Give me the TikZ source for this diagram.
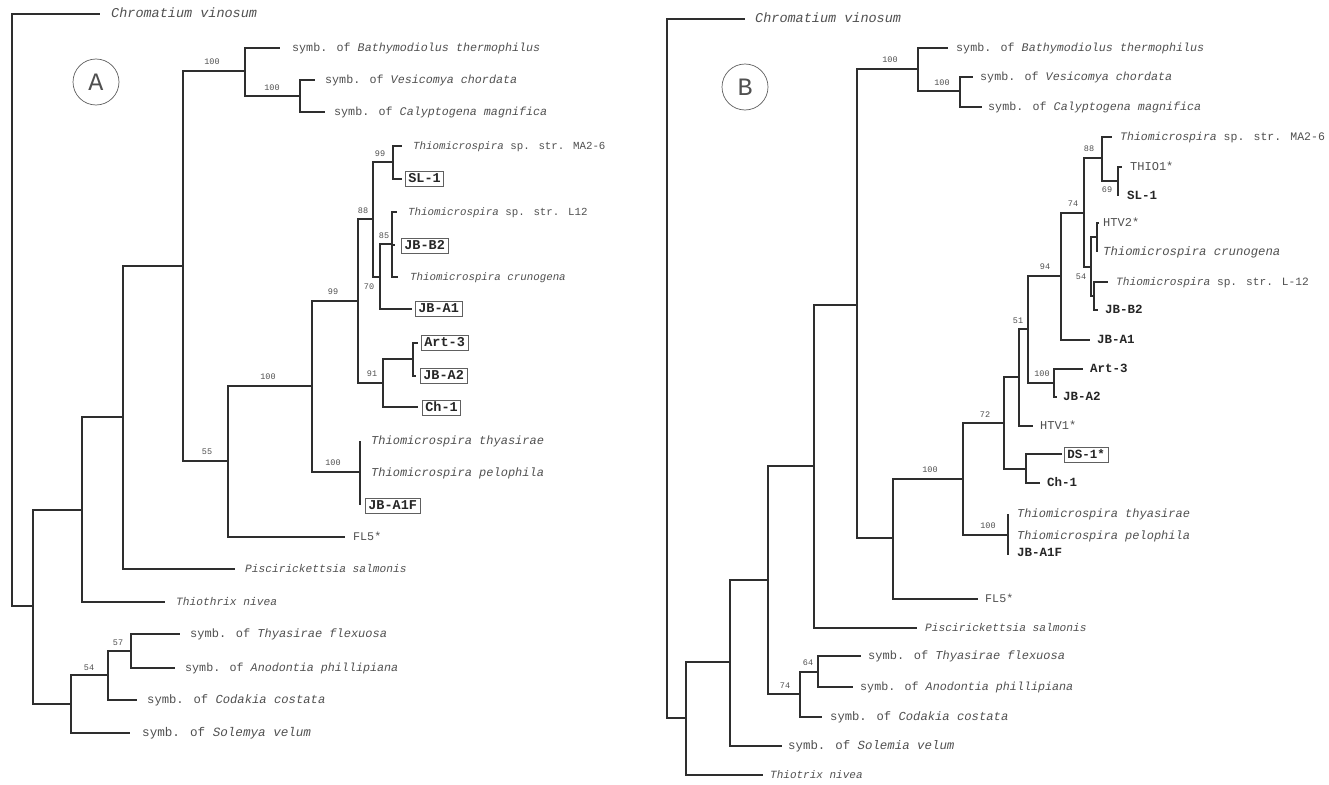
\documentclass[tikz,border=0pt]{standalone}
\usepackage{fontspec}
\setmainfont{Liberation Mono}
\definecolor{linec}{HTML}{2E2E2E}
\definecolor{txtc}{HTML}{505050}
\definecolor{boldc}{HTML}{262626}
\definecolor{boxc}{HTML}{606060}
\tikzset{
  br/.style={draw=linec, line width=1.8pt},
  tx/.style={anchor=west, inner sep=0pt, text=txtc, text height=0.62em, text depth=0pt, font=\fontsize{11.7}{13}\selectfont},
  it/.style={tx, font=\fontsize{12}{13}\selectfont\itshape},
  bd/.style={anchor=west, inner sep=0pt, text=boldc, text height=0.62em, text depth=0pt, font=\fontsize{13.5}{14}\selectfont\bfseries},
  bx/.style={bd, draw=boxc, line width=0.7pt, inner xsep=3pt, inner ysep=4.5pt},
  bs/.style={inner sep=0pt, text=txtc, font=\fontsize{8.5}{9}\selectfont},
  lettercirc/.style={circle, draw=boxc, line width=0.7pt, minimum size=46pt, inner sep=0pt, text=txtc, font=\fontsize{25}{25}\selectfont},
}
\begin{document}
\begin{tikzpicture}[x=1pt,y=-1pt]
\useasboundingbox[fill=white] (0,0) rectangle (1329,784);

% ===================== TREE A =====================
\node[lettercirc] (circA) at (96,82) {A};
% internal nodes
\coordinate (rA) at (12,310);
\coordinate (a33) at (33,606);
\coordinate (a82) at (82,510);
\coordinate (a123) at (123,417);
\coordinate (a183) at (183,266);
\coordinate (a245) at (245,71);
\coordinate (a300) at (300,96);
\coordinate (a228) at (228,461);
\coordinate (a312) at (312,386);
\coordinate (a358) at (358,301);
\coordinate (a360) at (360,472);
\coordinate (a373) at (373,219);
\coordinate (a383) at (383,383);
\coordinate (a393) at (393,162);
\coordinate (a380) at (380,277);
\coordinate (a392) at (392,244);
\coordinate (a413) at (413,359);
\coordinate (a71) at (71,704);
\coordinate (a108) at (108,675);
\coordinate (a131) at (131,651);
% tips
\coordinate (tAchr) at (100,14);
\coordinate (tAbat) at (280,48);
\coordinate (tAves) at (315,80);
\coordinate (tAcal) at (325,112);
\coordinate (tAma2) at (402,146);
\coordinate (tAsl1) at (402,179);
\coordinate (tAl12) at (397,212);
\coordinate (tAjbb2) at (395,245);
\coordinate (tAcru) at (398,277);
\coordinate (tAjba1) at (412,309);
\coordinate (tAart) at (418,343);
\coordinate (tAjba2) at (416,376);
\coordinate (tAch1) at (418,407);
\coordinate (tAthy) at (360,441);
\coordinate (tApel) at (360,473);
\coordinate (tAa1f) at (360,505);
\coordinate (tAfl5) at (345,537);
\coordinate (tApis) at (235,569);
\coordinate (tAthx) at (165,602);
\coordinate (tAtf) at (180,634);
\coordinate (tAap) at (175,668);
\coordinate (tAcc) at (137,700);
\coordinate (tAsv) at (130,733);
% branches
\draw[br] (rA) |- (tAchr);
\draw[br] (rA) |- (a33);
\draw[br] (a33) |- (a82);
\draw[br] (a33) |- (a71);
\draw[br] (a82) |- (a123);
\draw[br] (a82) |- (tAthx);
\draw[br] (a123) |- (a183);
\draw[br] (a123) |- (tApis);
\draw[br] (a183) |- (a245);
\draw[br] (a183) |- (a228);
\draw[br] (a245) |- (tAbat);
\draw[br] (a245) |- (a300);
\draw[br] (a300) |- (tAves);
\draw[br] (a300) |- (tAcal);
\draw[br] (a228) |- (a312);
\draw[br] (a228) |- (tAfl5);
\draw[br] (a312) |- (a358);
\draw[br] (a312) |- (a360);
\draw[br] (a360) |- (tAthy);
\draw[br] (a360) |- (tApel);
\draw[br] (a360) |- (tAa1f);
\draw[br] (a358) |- (a373);
\draw[br] (a358) |- (a383);
\draw[br] (a373) |- (a393);
\draw[br] (a373) |- (a380);
\draw[br] (a393) |- (tAma2);
\draw[br] (a393) |- (tAsl1);
\draw[br] (a380) |- (a392);
\draw[br] (a380) |- (tAjba1);
\draw[br] (a392) |- (tAl12);
\draw[br] (a392) |- (tAjbb2);
\draw[br] (a392) |- (tAcru);
\draw[br] (a383) |- (a413);
\draw[br] (a383) |- (tAch1);
\draw[br] (a413) |- (tAart);
\draw[br] (a413) |- (tAjba2);
\draw[br] (a71) |- (a108);
\draw[br] (a71) |- (tAsv);
\draw[br] (a108) |- (a131);
\draw[br] (a108) |- (tAcc);
\draw[br] (a131) |- (tAtf);
\draw[br] (a131) |- (tAap);
% labels
\node[it, font=\fontsize{13.5}{14}\selectfont\itshape] (lAchr) at (111,14) {Chromatium vinosum};
\node[tx] (lAbat) at (292,48) {symb. of \textit{Bathymodiolus thermophilus}};
\node[tx] (lAves) at (325,80) {symb. of \textit{Vesicomya chordata}};
\node[tx] (lAcal) at (334,112) {symb. of \textit{Calyptogena magnifica}};
\node[tx, font=\fontsize{10.8}{12}\selectfont] (lAma2) at (413,146) {\textit{Thiomicrospira} sp. str. MA2-6};
\node[bx] (lAsl1) at (405,179) {SL-1};
\node[tx, font=\fontsize{10.8}{12}\selectfont] (lAl12) at (408,212) {\textit{Thiomicrospira} sp. str. L12};
\node[bx] (lAjbb2) at (401,246) {JB-B2};
\node[it, font=\fontsize{10.8}{12}\selectfont\itshape] (lAcru) at (410,277) {Thiomicrospira crunogena};
\node[bx] (lAjba1) at (415,309) {JB-A1};
\node[bx] (lAart) at (421,343) {Art-3};
\node[bx] (lAjba2) at (420,376) {JB-A2};
\node[bx] (lAch1) at (422,408) {Ch-1};
\node[it] (lAthy) at (371,441) {Thiomicrospira thyasirae};
\node[it] (lApel) at (371,473) {Thiomicrospira pelophila};
\node[bx] (lAa1f) at (365,506) {JB-A1F};
\node[tx] (lAfl5) at (353,537) {FL5*};
\node[it, font=\fontsize{11.2}{12}\selectfont\itshape] (lApis) at (245,569) {Piscirickettsia salmonis};
\node[it, font=\fontsize{11.2}{12}\selectfont\itshape] (lAthx) at (176,602) {Thiothrix nivea};
\node[tx, font=\fontsize{12}{13}\selectfont] (lAtf) at (190,634) {symb. of \textit{Thyasirae flexuosa}};
\node[tx] (lAap) at (185,668) {symb. of \textit{Anodontia phillipiana}};
\node[tx, font=\fontsize{12.2}{13}\selectfont] (lAcc) at (147,700) {symb. of \textit{Codakia costata}};
\node[tx, font=\fontsize{12.6}{13}\selectfont] (lAsv) at (142,733) {symb. of \textit{Solemya velum}};
% bootstrap values
\node[bs] (bA1) at (212,62) {100};
\node[bs] (bA2) at (272,88) {100};
\node[bs] (bA3) at (380,154) {99};
\node[bs] (bA4) at (363,211) {88};
\node[bs] (bA5) at (384,236) {85};
\node[bs] (bA6) at (369,287) {70};
\node[bs] (bA7) at (333,292) {99};
\node[bs] (bA8) at (372,374) {91};
\node[bs] (bA9) at (268,377) {100};
\node[bs] (bA10) at (333,463) {100};
\node[bs] (bA11) at (207,452) {55};
\node[bs] (bA12) at (118,643) {57};
\node[bs] (bA13) at (89,668) {54};

% ===================== TREE B =====================
\node[lettercirc] (circB) at (745,87) {B};
\coordinate (rB) at (667,370);
\coordinate (b686) at (686,718);
\coordinate (b730) at (730,662);
\coordinate (b768) at (768,580);
\coordinate (b800) at (800,694);
\coordinate (b818) at (818,672);
\coordinate (b814) at (814,466);
\coordinate (b857) at (857,305);
\coordinate (b918) at (918,69);
\coordinate (b960) at (960,91);
\coordinate (b893) at (893,538);
\coordinate (b963) at (963,479);
\coordinate (b1008) at (1008,535);
\coordinate (b1004) at (1004,423);
\coordinate (b1026) at (1026,469);
\coordinate (b1019) at (1019,377);
\coordinate (b1028) at (1028,329);
\coordinate (b1054) at (1054,383);
\coordinate (b1061) at (1061,276);
\coordinate (b1084) at (1084,213);
\coordinate (b1102) at (1102,158);
\coordinate (b1118) at (1118,181);
\coordinate (b1091) at (1091,267);
\coordinate (b1097) at (1097,237);
\coordinate (b1094) at (1094,296);
% tips
\coordinate (tBchr) at (745,19);
\coordinate (tBthx) at (763,775);
\coordinate (tBsv) at (782,746);
\coordinate (tBcc) at (822,717);
\coordinate (tBtf) at (861,656);
\coordinate (tBap) at (853,687);
\coordinate (tBpis) at (917,628);
\coordinate (tBbat) at (948,48);
\coordinate (tBves) at (973,77);
\coordinate (tBcal) at (982,107);
\coordinate (tBfl5) at (978,599);
\coordinate (tBthy) at (1008,514);
\coordinate (tBpel) at (1008,536);
\coordinate (tBa1f) at (1008,555);
\coordinate (tBds1) at (1062,454);
\coordinate (tBch1) at (1040,483);
\coordinate (tBhtv1) at (1033,426);
\coordinate (tBart) at (1083,369);
\coordinate (tBjba2) at (1057,397);
\coordinate (tBjba1) at (1090,340);
\coordinate (tBma2) at (1112,137);
\coordinate (tBthio) at (1122,167);
\coordinate (tBsl1) at (1118,196);
\coordinate (tBhtv2) at (1099,223);
\coordinate (tBcru) at (1097,252);
\coordinate (tBl12) at (1108,282);
\coordinate (tBjbb2) at (1098,310);
% branches
\draw[br] (rB) |- (tBchr);
\draw[br] (rB) |- (b686);
\draw[br] (b686) |- (b730);
\draw[br] (b686) |- (tBthx);
\draw[br] (b730) |- (b768);
\draw[br] (b730) |- (tBsv);
\draw[br] (b768) |- (b814);
\draw[br] (b768) |- (b800);
\draw[br] (b800) |- (b818);
\draw[br] (b800) |- (tBcc);
\draw[br] (b818) |- (tBtf);
\draw[br] (b818) |- (tBap);
\draw[br] (b814) |- (b857);
\draw[br] (b814) |- (tBpis);
\draw[br] (b857) |- (b918);
\draw[br] (b857) |- (b893);
\draw[br] (b918) |- (tBbat);
\draw[br] (b918) |- (b960);
\draw[br] (b960) |- (tBves);
\draw[br] (b960) |- (tBcal);
\draw[br] (b893) |- (b963);
\draw[br] (b893) |- (tBfl5);
\draw[br] (b963) |- (b1004);
\draw[br] (b963) |- (b1008);
\draw[br] (b1008) |- (tBthy);
\draw[br] (b1008) |- (tBpel);
\draw[br] (b1008) |- (tBa1f);
\draw[br] (b1004) |- (b1019);
\draw[br] (b1004) |- (b1026);
\draw[br] (b1026) |- (tBds1);
\draw[br] (b1026) |- (tBch1);
\draw[br] (b1019) |- (b1028);
\draw[br] (b1019) |- (tBhtv1);
\draw[br] (b1028) |- (b1061);
\draw[br] (b1028) |- (b1054);
\draw[br] (b1054) |- (tBart);
\draw[br] (b1054) |- (tBjba2);
\draw[br] (b1061) |- (b1084);
\draw[br] (b1061) |- (tBjba1);
\draw[br] (b1084) |- (b1102);
\draw[br] (b1084) |- (b1091);
\draw[br] (b1102) |- (tBma2);
\draw[br] (b1102) |- (b1118);
\draw[br] (b1118) |- (tBthio);
\draw[br] (b1118) |- (tBsl1);
\draw[br] (b1091) |- (b1097);
\draw[br] (b1091) |- (b1094);
\draw[br] (b1097) |- (tBhtv2);
\draw[br] (b1097) |- (tBcru);
\draw[br] (b1094) |- (tBl12);
\draw[br] (b1094) |- (tBjbb2);
% labels
\node[it, font=\fontsize{13.5}{14}\selectfont\itshape] (lBchr) at (755,19) {Chromatium vinosum};
\node[tx] (lBbat) at (956,48) {symb. of \textit{Bathymodiolus thermophilus}};
\node[tx] (lBves) at (980,77) {symb. of \textit{Vesicomya chordata}};
\node[tx] (lBcal) at (988,107) {symb. of \textit{Calyptogena magnifica}};
\node[tx, font=\fontsize{11.5}{12}\selectfont] (lBma2) at (1120,137) {\textit{Thiomicrospira} sp. str. MA2-6};
\node[tx, font=\fontsize{12}{13}\selectfont] (lBthio) at (1130,167) {THIO1*};
\node[bd, font=\fontsize{12.5}{13}\selectfont\bfseries] (lBsl1) at (1127,196) {SL-1};
\node[tx, font=\fontsize{12}{13}\selectfont] (lBhtv2) at (1103,223) {HTV2*};
\node[it, font=\fontsize{12.3}{13}\selectfont\itshape] (lBcru) at (1103,252) {Thiomicrospira crunogena};
\node[tx, font=\fontsize{11.2}{12}\selectfont] (lBl12) at (1116,282) {\textit{Thiomicrospira} sp. str. L-12};
\node[bd, font=\fontsize{12.5}{13}\selectfont\bfseries] (lBjbb2) at (1105,310) {JB-B2};
\node[bd, font=\fontsize{12.5}{13}\selectfont\bfseries] (lBjba1) at (1097,340) {JB-A1};
\node[bd, font=\fontsize{12.5}{13}\selectfont\bfseries] (lBart) at (1090,369) {Art-3};
\node[bd, font=\fontsize{12.5}{13}\selectfont\bfseries] (lBjba2) at (1063,397) {JB-A2};
\node[tx, font=\fontsize{12}{13}\selectfont] (lBhtv1) at (1040,426) {HTV1*};
\node[bx, font=\fontsize{12.5}{13}\selectfont\bfseries] (lBds1) at (1064,455) {DS-1*};
\node[bd, font=\fontsize{12.5}{13}\selectfont\bfseries] (lBch1) at (1047,483) {Ch-1};
\node[it] (lBthy) at (1017,514) {Thiomicrospira thyasirae};
\node[it] (lBpel) at (1017,536) {Thiomicrospira pelophila};
\node[bd, font=\fontsize{12.5}{13}\selectfont\bfseries] (lBa1f) at (1017,553) {JB-A1F};
\node[tx] (lBfl5) at (985,599) {FL5*};
\node[it, font=\fontsize{11.2}{12}\selectfont\itshape] (lBpis) at (925,628) {Piscirickettsia salmonis};
\node[tx, font=\fontsize{12}{13}\selectfont] (lBtf) at (868,656) {symb. of \textit{Thyasirae flexuosa}};
\node[tx] (lBap) at (860,687) {symb. of \textit{Anodontia phillipiana}};
\node[tx, font=\fontsize{12.2}{13}\selectfont] (lBcc) at (830,717) {symb. of \textit{Codakia costata}};
\node[tx, font=\fontsize{12.4}{13}\selectfont] (lBsv) at (788,746) {symb. of \textit{Solemia velum}};
\node[it, font=\fontsize{11}{12}\selectfont\itshape] (lBthx) at (770,775) {Thiotrix nivea};
% bootstrap values
\node[bs] (bB1) at (890,60) {100};
\node[bs] (bB2) at (942,83) {100};
\node[bs] (bB3) at (1089,149) {88};
\node[bs] (bB4) at (1107,190) {69};
\node[bs] (bB5) at (1073,204) {74};
\node[bs] (bB6) at (1045,267) {94};
\node[bs] (bB7) at (1081,277) {54};
\node[bs] (bB8) at (1018,321) {51};
\node[bs] (bB9) at (1042,374) {100};
\node[bs] (bB10) at (985,415) {72};
\node[bs] (bB11) at (930,470) {100};
\node[bs] (bB12) at (988,526) {100};
\node[bs] (bB13) at (808,663) {64};
\node[bs] (bB14) at (785,686) {74};
\end{tikzpicture}
\end{document}
